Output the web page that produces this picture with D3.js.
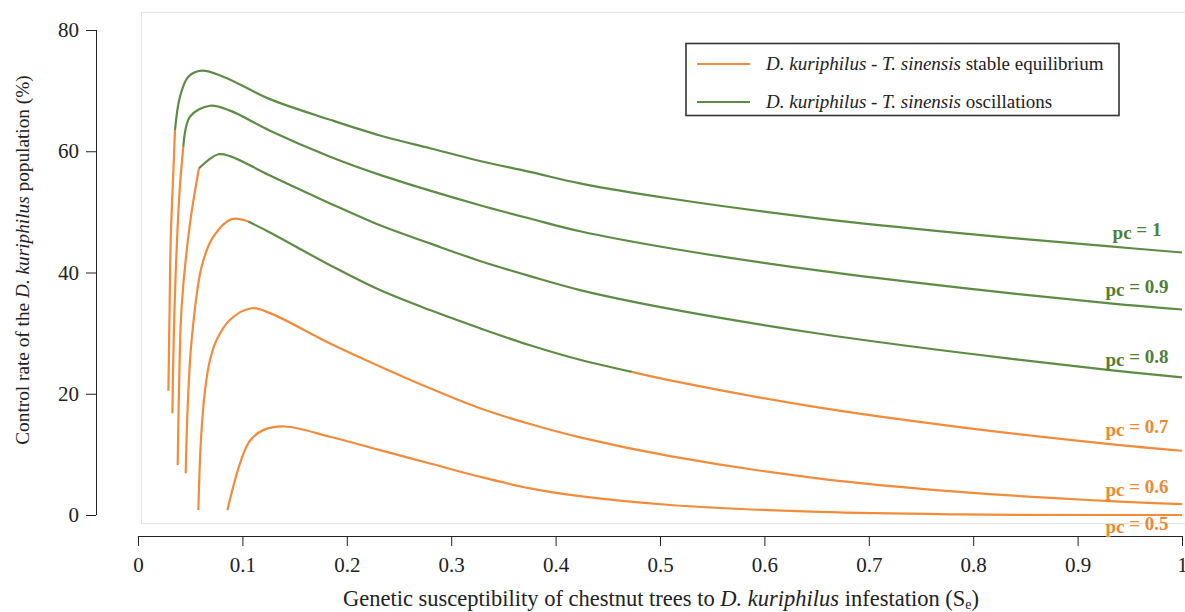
<!DOCTYPE html>
<html>
<head>
<meta charset="utf-8">
<script src="https://cdn.jsdelivr.net/npm/d3@7"></script>
<style>
  html, body { margin: 0; padding: 0; background: #fff; }
  svg { display: block; font-family: "Liberation Serif", "Times New Roman", serif; }
</style>
</head>
<body>
<svg id="chart" width="1185" height="612"></svg>
<script>
// ---------------- DATA ----------------
const xTicks = [0, 0.1, 0.2, 0.3, 0.4, 0.5, 0.6, 0.7, 0.8, 0.9, 1];
const yTicks = [0, 20, 40, 60, 80];
const pcLabels = ["1", "0.9", "0.8", "0.7", "0.6", "0.5"];
const labelY = [46.0, 36.6, 25.1, 13.5, 3.7, -2.5];
const labelState = ["osc", "osc", "osc", "stable", "stable", "stable"];

// Each curve split into segments: [state, [[Se, control%], ...]]
const pc1 = [
  ["stable", [[0.0291, 20.5], [0.0303, 34.4], [0.0313, 45.4], [0.0338, 56.4], [0.0354, 63.4]]],
  ["osc", [[0.0354, 63.4], [0.0402, 69.0], [0.0482, 72.3], [0.061, 73.3], [0.0817, 72.3],
           [0.1264, 68.6], [0.184, 65.2], [0.2318, 62.6], [0.2797, 60.5], [0.3276, 58.4],
           [0.3755, 56.6], [0.4234, 54.7], [0.5096, 52.2], [0.653, 48.9], [0.787, 46.5], [0.931, 44.3],
           [1.0, 43.3]]]
];
const pc09 = [
  ["stable", [[0.0329, 16.8], [0.0342, 28.9], [0.0361, 39.9], [0.0399, 53.6], [0.0434, 60.75]]],
  ["osc", [[0.0434, 60.75], [0.0498, 65.7], [0.069, 67.5], [0.0881, 66.7], [0.1264, 63.4],
           [0.184, 59.1], [0.2318, 56.1], [0.2797, 53.5], [0.3276, 51.1], [0.3755, 48.9], [0.4234, 46.8],
           [0.5096, 44.0], [0.653, 40.3], [0.787, 37.5], [0.931, 34.9], [1.0, 33.9]]]
];
const pc08 = [
  ["stable", [[0.038, 8.25], [0.0396, 23.4], [0.0418, 34.4], [0.0498, 48.1], [0.0584, 57.2]]],
  ["osc", [[0.0584, 57.2], [0.0769, 59.5], [0.0881, 59.2], [0.1264, 56.0], [0.184, 51.4],
           [0.2318, 47.8], [0.2797, 44.8], [0.3276, 41.9], [0.3755, 39.4], [0.4234, 37.1], [0.5096, 34.0],
           [0.653, 29.9], [0.787, 26.8], [0.931, 23.9], [1.0, 22.7]]]
];
const pc07 = [
  ["stable", [[0.0457, 6.9], [0.0476, 17.9], [0.0514, 28.9], [0.061, 41.0], [0.0722, 45.9], [0.0897, 48.8],
              [0.1057, 48.4]]],
  ["osc", [[0.1057, 48.4], [0.1264, 46.6], [0.184, 41.2], [0.2318, 37.1], [0.2797, 33.8],
           [0.3276, 30.8], [0.3755, 28.0], [0.4234, 25.6], [0.473, 23.6]]],
  ["stable", [[0.473, 23.6], [0.5096, 22.2], [0.653, 17.7], [0.787, 14.5], [0.931, 11.7], [1.0, 10.6]]]
];
const pc06 = [
  ["stable", [[0.0578, 0.8], [0.0603, 12.4], [0.0642, 20.6], [0.069, 25.6], [0.0754, 28.9], [0.0881, 32.2],
              [0.1089, 34.1], [0.1264, 33.3], [0.184, 28.3], [0.2318, 24.5], [0.2797, 20.9],
              [0.3276, 17.6], [0.3755, 15.0], [0.4234, 12.8], [0.5096, 9.7], [0.653, 6.0], [0.787, 3.8],
              [0.931, 2.3], [1.0, 1.8]]]
];
const pc05 = [
  ["stable", [[0.0856, 0.8], [0.0977, 8.5], [0.107, 12.2], [0.12, 14.0], [0.1408, 14.6], [0.184, 12.9],
              [0.2318, 10.7], [0.2797, 8.5], [0.3276, 6.3], [0.3755, 4.4], [0.4234, 3.1], [0.5096, 1.65],
              [0.653, 0.5], [0.787, 0.1], [0.931, 0.0], [1.0, 0.0]]]
];
const curves = [pc1, pc09, pc08, pc07, pc06, pc05];
const legendItems = [
  { state: "stable", italic: "D. kuriphilus - T. sinensis", plain: " stable equilibrium" },
  { state: "osc", italic: "D. kuriphilus - T. sinensis", plain: " oscillations" }
];

// ---------------- STYLE ----------------
const lineColor = { stable: "#F28C3B", osc: "#5E8C45" };
const labelColor = { stable: "#EE8833", osc: "#4F7F35" };

const svg = d3.select("#chart");
const x = d3.scaleLinear().domain([0, 1]).range([138, 1182]);
const y = d3.scaleLinear().domain([0, 80]).range([515, 30]);

// panel background border
svg.append("rect")
  .attr("x", 141.5).attr("y", 12.5)
  .attr("width", 1050).attr("height", 511)
  .attr("fill", "none").attr("stroke", "#e4e4e4").attr("stroke-width", 1);

// axes
const yAxis = d3.axisLeft(y).tickValues(yTicks).tickSize(10).tickPadding(7).tickFormat(d3.format("d"));
const gy = svg.append("g").attr("transform", "translate(96,0)").call(yAxis);
gy.select(".domain").attr("d", `M0.5,${y(80)}V${y(0)}`).attr("stroke", "#222");
gy.selectAll(".tick line").attr("stroke", "#222");
gy.selectAll(".tick text").attr("font-size", 21).attr("font-family", "Liberation Serif").attr("fill", "#222");

const xAxis = d3.axisBottom(x).tickValues(xTicks).tickSize(10).tickPadding(11)
  .tickFormat(d => d === 0 ? "0" : d === 1 ? "1" : d3.format(".1f")(d));
const gx = svg.append("g").attr("transform", "translate(0,536)").call(xAxis);
gx.select(".domain").attr("d", `M${x(0)},0.5H${x(1)}`).attr("stroke", "#222");
gx.selectAll(".tick line").attr("stroke", "#222");
gx.selectAll(".tick text").attr("font-size", 21).attr("font-family", "Liberation Serif").attr("fill", "#222");

// axis titles
const xt = svg.append("text").attr("x", 661).attr("y", 606).attr("text-anchor", "middle")
  .attr("font-size", 22.5).attr("fill", "#222");
xt.append("tspan").text("Genetic susceptibility of chestnut trees to ");
xt.append("tspan").attr("font-style", "italic").text("D. kuriphilus");
xt.append("tspan").text(" infestation (S");
xt.append("tspan").attr("font-size", 14).attr("dy", 3).text("e");
xt.append("tspan").attr("dy", -3).text(")");

const yt = svg.append("text").attr("transform", "translate(29,260) rotate(-90)")
  .attr("text-anchor", "middle").attr("font-size", 19.3).attr("fill", "#222");
yt.append("tspan").text("Control rate of the ");
yt.append("tspan").attr("font-style", "italic").text("D. kuriphilus");
yt.append("tspan").text(" population (%)");

// curves
const line = d3.line().x(d => x(d[0])).y(d => y(d[1])).curve(d3.curveCatmullRom.alpha(0.5));
const gCurves = svg.append("g");
curves.forEach(curve => {
  curve.forEach(seg => {
    gCurves.append("path")
      .attr("d", line(seg[1]))
      .attr("fill", "none")
      .attr("stroke", lineColor[seg[0]])
      .attr("stroke-width", 2.2)
      .attr("stroke-linecap", "butt");
  });
});

// pc labels
pcLabels.forEach((lab, i) => {
  const t = svg.append("text")
    .attr("x", 1137).attr("y", y(labelY[i]))
    .attr("text-anchor", "middle")
    .attr("font-size", 19).attr("font-weight", "bold")
    .attr("fill", labelColor[labelState[i]]);
  t.append("tspan").attr("dy", 3).text("p");
  t.append("tspan").text("c");
  t.append("tspan").attr("dy", -3).text(" = " + lab);
});

// legend
const lg = svg.append("g");
lg.append("rect").attr("x", 686).attr("y", 43.5).attr("width", 433).attr("height", 72)
  .attr("fill", "#fff").attr("stroke", "#333").attr("stroke-width", 1.6);
legendItems.forEach((item, i) => {
  const cy = 64 + i * 38;
  lg.append("line").attr("x1", 697).attr("x2", 750).attr("y1", cy).attr("y2", cy)
    .attr("stroke", lineColor[item.state]).attr("stroke-width", 2.2);
  const t = lg.append("text").attr("x", 766).attr("y", cy + 6).attr("font-size", 19).attr("fill", "#222");
  t.append("tspan").attr("font-style", "italic").text(item.italic);
  t.append("tspan").text(item.plain);
});
</script>
</body>
</html>
